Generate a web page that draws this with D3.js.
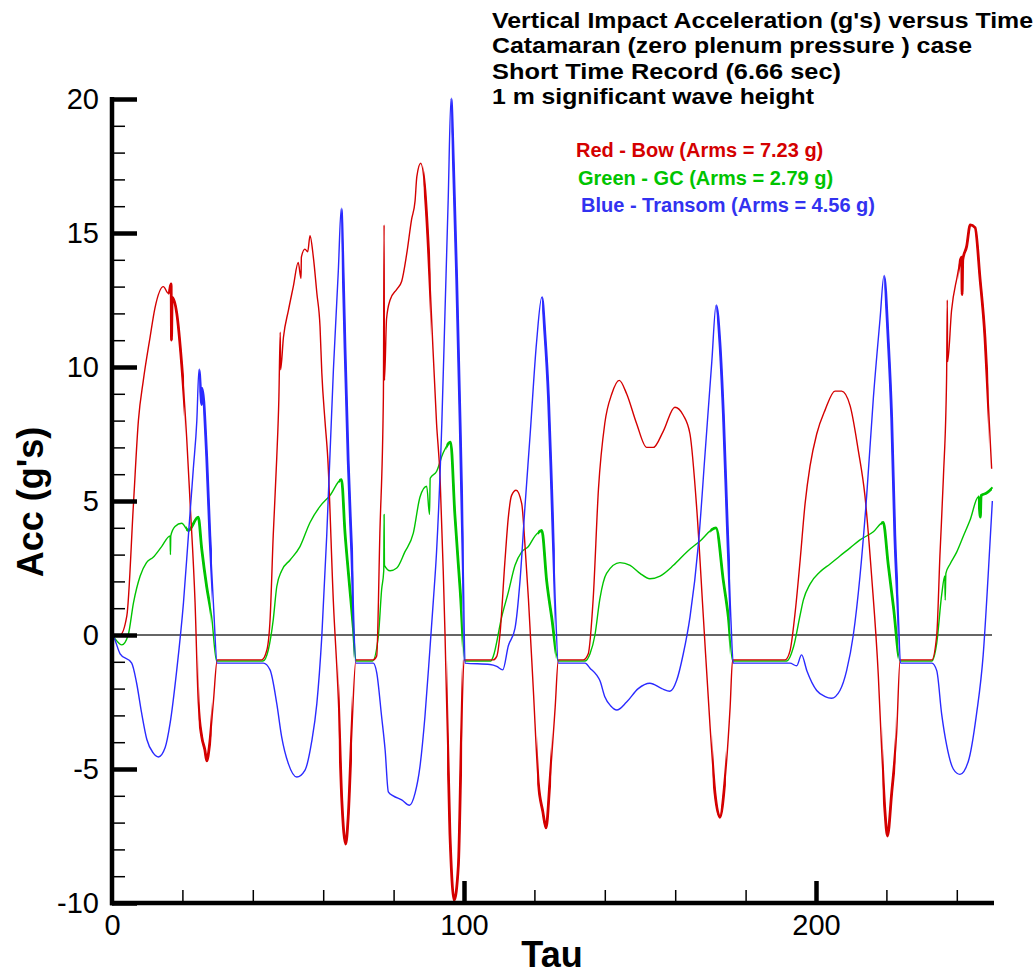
<!DOCTYPE html>
<html>
<head>
<meta charset="utf-8">
<script src="https://cdn.jsdelivr.net/npm/d3@7/dist/d3.min.js"></script>
<style>
  html, body { margin: 0; padding: 0; background: #fff; }
  svg { display: block; font-family: "Liberation Sans", Arial, Helvetica, sans-serif; }
</style>
</head>
<body>
<svg id="chart" width="1035" height="976"></svg>
<script>
// ---------------- data (tau, acceleration in g's) ----------------
const titleLines = [
  "Vertical Impact Acceleration (g's) versus Time",
  "Catamaran (zero plenum pressure ) case",
  "Short Time Record (6.66 sec)",
  "1 m significant wave height"
];
const legendLabels = [
  "Red - Bow (Arms = 7.23 g)",
  "Green - GC (Arms = 2.79 g)",
  "Blue - Transom (Arms = 4.56 g)"
];
const xMajorTicks = [0, 100, 200];
const xMinorTicks = [20, 40, 60, 80, 120, 140, 160, 180, 220, 240];
const yMajorTicks = [-10, -5, 0, 5, 10, 15, 20];
const yMinorTicks = [-9,-8,-7,-6,-4,-3,-2,-1,1,2,3,4,6,7,8,9,11,12,13,14,16,17,18,19];

const bowSeries = [
  [0,0],[2.3,0.0],[4.2,0.7],[6.1,4.9],[7.5,8.0],[8.9,9.5],[10.8,11.1],[12.2,12.2],[14.6,13.0],
  [16.0,12.75],[16.8,13.1],[16.9,11.0],[17.1,12.6],[18.4,12.0],[19.8,10.1],[21.2,7.4],[22.2,4.9],
  [23.6,1.2],[24.5,-2.5],[25.5,-3.8],[26.4,-4.3],[26.9,-4.7],[27.8,-4.0],[28.8,-2.5],[29.9,-0.93],
  [42.5,-0.93],[44.0,-0.56],[44.9,0.56],[45.8,3.7],[46.8,6.6],[47.4,8.8],[47.8,11.3],[47.9,9.9],
  [48.7,11.1],[50.1,12.1],[51.5,13.0],[52.9,13.9],[53.7,13.3],[53.8,14.1],[54.8,14.4],[55.6,14.3],
  [56.25,14.9],[57.2,14.1],[58.2,12.75],[59.1,11.5],[59.6,9.8],[60.5,8.0],[61.3,6.6],[62.9,1.2],
  [64.3,-2.4],[65.3,-6.2],[66.4,-7.8],[67.1,-6.8],[68.1,-3.7],[69.3,-0.93],
  [74.2,-0.93],[75.2,-0.78],[76.1,3.8],[77.1,8.9],[77.3,15.3],[77.4,9.5],[78.0,11.8],[79.0,12.5],
  [80.9,12.9],[82.3,13.2],[83.7,14.2],[85.1,15.5],[86.1,16.2],[86.6,17.1],[87.7,17.6],[88.9,16.6],
  [89.9,14.4],[90.8,11.8],[92.2,7.9],[93.2,5.9],[94.1,2.4],[94.6,0.07],[96.0,-7.4],[97.2,-9.9],
  [98.4,-8.6],[99.3,-3.7],[100.0,-0.93],
  [108.3,-0.93],[109.3,-0.8],[110.2,0],[111.6,2.7],[112.6,4.4],[113.5,5.2],[114.8,5.4],[116.4,4.9],
  [117.3,3.4],[118.3,1.35],[119.7,-2.05],[121.1,-5.5],[122.4,-6.6],[123.3,-7.2],[124.4,-5.5],
  [125.9,-2.7],[126.8,-0.93],
  [133.9,-0.93],[135.3,-0.7],[136.7,1.35],[138.2,5.45],[140.0,7.9],[142.0,9.0],[144.1,9.5],[146.2,9.0],
  [149.0,7.9],[151.9,7.0],[153.8,7.0],[156.6,7.6],[159.9,8.5],[162.3,8.2],[164.2,7.5],[166.1,4.75],
  [168.0,0.67],[169.9,-3.4],[171.3,-5.9],[172.7,-6.8],[174.1,-5.5],[175.6,-2.7],[176.3,-0.93],
  [191.2,-0.93],[192.6,-0.6],[194.0,0.75],[195.5,2.8],[196.9,4.9],[198.3,6.3],[200.2,7.5],[202.6,8.4],
  [205.4,9.1],[207.3,9.1],[209.7,8.55],[212.0,6.9],[213.9,5.2],[215.8,2.2],[217.7,-1.5],[218.7,-4.4],
  [219.6,-6.6],[220.3,-7.5],[221.5,-5.9],[222.9,-3.7],[223.9,-0.93],
  [232.9,-0.93],[234.3,0],[235.2,2.95],[236.2,5.9],[237.1,9.6],[237.3,12.5],[237.4,10.2],[238.5,12.1],
  [240.0,13.3],[241.4,14.1],[241.5,12.7],[241.7,14.0],[242.8,14.5],[243.8,15.3],[245.2,15.2],
  [246.6,13.3],[248.0,11.1],[248.9,8.8],[249.9,6.2]
];

const gcSeries = [
  [0,0],[0.4,-0.06],[2.8,-0.37],[4.6,0],[6.1,1.2],[8.0,2.2],[9.8,2.7],[11.7,2.9],[14.1,3.3],
  [16.5,3.7],[16.6,3.0],[16.7,3.7],[17.9,4.05],[19.8,4.17],[21.7,3.9],[24.5,4.4],[25.5,3.2],
  [26.9,1.8],[28.3,0.7],[29.7,-0.97],
  [42.9,-0.97],[44.4,-0.56],[45.8,0.56],[46.8,1.8],[48.2,2.4],[50.6,2.8],[53.4,3.3],[56.25,4.2],
  [59.1,4.8],[61.9,5.2],[65.2,5.8],[66.2,3.8],[67.1,2.4],[68.6,0.2],[69.3,-0.97],
  [74.0,-0.97],[75.7,0],[76.6,1.7],[77.2,2.4],[77.3,4.5],[77.4,2.6],[79.0,2.4],[80.9,2.5],[83.2,3.1],
  [85.6,3.8],[87.5,5.15],[89.4,5.55],[90.2,4.5],[90.4,5.85],[92.2,6.1],[94.1,6.8],[96.2,7.2],
  [97.4,4.5],[98.9,1.7],[100.3,-0.97],
  [107.6,-0.97],[108.3,-0.8],[110.7,0.67],[112.6,1.6],[114.5,2.6],[116.4,3.1],[118.3,3.3],
  [120.2,3.7],[122.1,3.9],[123.5,2.0],[124.9,0.67],[126.8,-0.97],
  [134.4,-0.97],[135.8,-0.7],[137.2,0],[138.6,1.35],[140.5,2.3],[144.3,2.7],[147.2,2.6],[150.0,2.3],
  [152.8,2.1],[155.7,2.2],[159.5,2.6],[163.3,3.1],[167.0,3.5],[171.6,4.0],[173.7,2.0],[175.1,0.67],
  [176.3,-0.97],
  [191.7,-0.97],[193.6,-0.45],[195.5,0.75],[196.4,1.3],[198.3,1.9],[201.1,2.35],[204.0,2.65],
  [206.8,2.95],[209.7,3.25],[212.5,3.55],[216.3,3.85],[219.1,4.2],[220.5,2.65],[222.0,1.05],
  [223.9,-0.97],
  [232.9,-0.97],[234.3,-0.3],[235.7,1.5],[236.6,2.2],[236.7,1.3],[236.9,2.3],[238.1,2.65],[240.0,3.1],
  [241.9,3.7],[243.8,4.3],[246.1,5.15],[246.7,4.4],[246.9,5.2],[248.5,5.3],[250.2,5.5]
];

const transomSeries = [
  [0,0],[0.4,-0.06],[2.3,-0.7],[5.6,-1.05],[7.0,-1.8],[8.4,-2.9],[9.9,-3.9],[11.7,-4.4],[13.2,-4.55],
  [15.1,-4.2],[16.5,-3.3],[18.4,-1.3],[20.3,1.2],[21.7,3.7],[23.1,6.2],[24.1,8.0],[24.7,9.9],
  [25.5,8.6],[25.6,9.2],[26.9,6.65],[27.8,3.7],[28.8,1.2],[29.9,-1.05],
  [43.0,-1.05],[44.9,-1.3],[46.8,-2.55],[48.2,-3.8],[50.1,-4.8],[52.5,-5.3],[54.8,-5.05],[56.7,-4.0],
  [58.2,-2.55],[59.6,-0.06],[61.0,3.7],[62.9,9.9],[64.3,13.6],[65.1,15.9],[65.7,13.4],[66.2,10.7],
  [67.1,6.5],[68.1,3.1],[69.3,-1.05],
  [74.2,-1.05],[75.2,-1.4],[76.6,-3.05],[77.6,-4.3],[78.5,-5.85],[79.9,-6.0],[82.3,-6.15],[84.5,-6.35],
  [86.1,-5.9],[87.5,-4.9],[88.9,-3.05],[90.3,-0.56],[91.3,1.3],[92.2,3.1],[93.7,7.9],[94.6,12.05],
  [95.5,16.2],[96.3,20.0],[97.0,17.6],[97.9,13.4],[98.9,7.9],[99.8,2.4],[100.3,-1.05],
  [107.4,-1.1],[109.3,-1.17],[111.0,-1.3],[112.6,-0.4],[114.5,0.26],[115.9,2.0],[117.3,4.75],
  [118.8,7.5],[120.6,10.9],[122.1,12.6],[123.0,11.2],[124.0,8.85],[124.9,5.45],[125.9,1.35],
  [126.8,-1.05],
  [134.4,-1.05],[135.8,-1.24],[137.7,-1.5],[138.6,-1.7],[140.0,-2.3],[141.7,-2.65],[143.4,-2.8],
  [146.2,-2.5],[149.5,-2.0],[152.8,-1.8],[156.2,-2.0],[158.5,-2.1],[160.4,-1.7],[162.3,-0.7],
  [164.2,0.67],[166.6,3.4],[168.5,6.8],[170.4,10.2],[171.6,12.3],[172.7,10.9],[173.7,8.2],
  [174.8,4.1],[175.8,0.67],[176.5,-1.05],
  [192.6,-1.05],[194.5,-1.15],[195.9,-0.74],[197.4,-1.33],[200.2,-2.07],[202.6,-2.3],[204.4,-2.36],
  [206.8,-2.07],[208.7,-1.33],[210.6,0],[212.5,2.2],[214.4,5.2],[216.3,8.85],[218.2,11.8],
  [219.3,13.4],[220.5,11.05],[221.5,8.1],[222.4,3.7],[223.4,0.73],[224.0,-1.05],
  [232.9,-1.05],[234.3,-1.33],[235.7,-2.95],[237.1,-4.1],[239.0,-5.0],[240.9,-5.2],[243.3,-4.7],
  [245.6,-2.95],[247.5,-0.74],[248.9,2.2],[250.1,5.0]
];

// tau ranges where the recorded signal is dense high-frequency noise (drawn heavier)
const bowNoisyRanges = [[16, 20.5], [24.6, 28.3], [64.4, 68.2], [88.5, 90.5], [95.2, 99.5], [120.8, 124.8], [170.6, 174.4], [218.9, 222.6], [240.5, 249]];
const gcNoisyRanges = [[21, 28], [64.5, 68.8], [95, 99.5], [121, 126], [170, 175.5], [218.5, 223.3], [246, 250]];
const transomNoisyRanges = [[24.8, 28.4], [65.2, 68.6], [96.4, 99.9], [122.2, 125.8], [171.7, 175.6], [219.4, 223.4]];

// ---------------- layout ----------------
const svg = d3.select("#chart");
const x = d3.scaleLinear().domain([0, 250]).range([112, 992]);
const y = d3.scaleLinear().domain([-10, 20]).range([903, 99]);

const colors = { bow: "#d40000", gc: "#00c400", transom: "#2a2aff" };

// zero reference line
svg.append("line")
  .attr("x1", x(0)).attr("x2", x(250))
  .attr("y1", y(0)).attr("y2", y(0))
  .attr("stroke", "#666").attr("stroke-width", 1.8);

// clip paths for noisy stretches
const defs = svg.append("defs");
function makeClip(id, ranges) {
  const cp = defs.append("clipPath").attr("id", id);
  ranges.forEach(r => cp.append("rect")
    .attr("x", x(r[0])).attr("width", x(r[1]) - x(r[0]))
    .attr("y", y(20) - 5).attr("height", y(-10) - y(20) + 10));
}
makeClip("clip-bow", bowNoisyRanges);
makeClip("clip-gc", gcNoisyRanges);
makeClip("clip-transom", transomNoisyRanges);

// series
const line = d3.line().curve(d3.curveMonotoneX).x(d => x(d[0])).y(d => y(d[1]));
[[gcSeries, colors.gc, "clip-gc"], [bowSeries, colors.bow, "clip-bow"], [transomSeries, colors.transom, "clip-transom"]]
  .forEach(([s, c, clip]) => {
    svg.append("path").datum(s)
      .attr("d", line)
      .attr("fill", "none")
      .attr("stroke", c)
      .attr("stroke-width", 1.4)
      .attr("stroke-linejoin", "round");
    svg.append("path").datum(s)
      .attr("d", line)
      .attr("fill", "none")
      .attr("stroke", c)
      .attr("stroke-width", 2.8)
      .attr("stroke-linejoin", "round")
      .attr("clip-path", `url(#${clip})`);
  });

// axes
function styleTicks(g, w) {
  g.select(".domain").remove();
  g.selectAll(".tick line").attr("stroke", "#000").attr("stroke-width", w);
  g.selectAll(".tick text").remove();
}
svg.append("g").attr("transform", `translate(${x(0)},0)`)
  .call(d3.axisRight(y).tickValues(yMinorTicks).tickSize(13))
  .call(g => styleTicks(g, 1.5));
svg.append("g").attr("transform", `translate(${x(0)},0)`)
  .call(d3.axisRight(y).tickValues(yMajorTicks).tickSize(25))
  .call(g => styleTicks(g, 4.5));
svg.append("g").attr("transform", `translate(0,${y(-10)})`)
  .call(d3.axisTop(x).tickValues(xMinorTicks).tickSize(13))
  .call(g => styleTicks(g, 1.5));
svg.append("g").attr("transform", `translate(0,${y(-10)})`)
  .call(d3.axisTop(x).tickValues(xMajorTicks.filter(v => v !== 0)).tickSize(22))
  .call(g => styleTicks(g, 4.5));

// axis lines
svg.append("line").attr("x1", x(0)).attr("x2", x(0)).attr("y1", y(20) - 2).attr("y2", y(-10) + 2.3)
  .attr("stroke", "#000").attr("stroke-width", 4.5);
svg.append("line").attr("x1", x(0) - 2).attr("x2", x(250) + 2).attr("y1", y(-10)).attr("y2", y(-10))
  .attr("stroke", "#000").attr("stroke-width", 4.5);

// tick labels (plain hyphen minus, as in the reference)
const fmt = v => String(v);
const yLab = svg.append("g").attr("transform", `translate(${x(0)},0)`)
  .call(d3.axisLeft(y).tickValues(yMajorTicks).tickFormat(fmt).tickSize(0).tickPadding(13));
yLab.select(".domain").remove();
yLab.selectAll("text").attr("font-size", 29).attr("fill", "#000")
  .attr("font-family", "'Liberation Sans', Arial, sans-serif");

const xLab = svg.append("g").attr("transform", `translate(0,${y(-10)})`)
  .call(d3.axisBottom(x).tickValues(xMajorTicks).tickFormat(fmt).tickSize(0).tickPadding(11));
xLab.select(".domain").remove();
xLab.selectAll("text").attr("font-size", 29).attr("fill", "#000")
  .attr("font-family", "'Liberation Sans', Arial, sans-serif");

// axis titles
svg.append("text").text("Tau")
  .attr("x", (x(0) + x(250)) / 2).attr("y", 967)
  .attr("text-anchor", "middle").attr("font-weight", "bold").attr("font-size", 36);
svg.append("text").text("Acc (g's)")
  .attr("transform", "translate(43,502) rotate(-90)")
  .attr("text-anchor", "middle").attr("font-weight", "bold").attr("font-size", 36);

// title block
const titleWidths = [541, 480, 349, 322];
const titleBase = [28, 53, 79, 104];
titleLines.forEach((t, i) => {
  svg.append("text").text(t)
    .attr("x", 492).attr("y", titleBase[i])
    .attr("font-weight", "bold").attr("font-size", 22)
    .attr("textLength", titleWidths[i]).attr("lengthAdjust", "spacingAndGlyphs");
});

// legend
const legendColors = ["#d40000", "#00c400", "#3232f0"];
const legendX = [576, 578, 581];
const legendY = [157, 185, 212];
legendLabels.forEach((t, i) => {
  svg.append("text").text(t)
    .attr("x", legendX[i]).attr("y", legendY[i])
    .attr("font-weight", "bold").attr("font-size", 20)
    .attr("fill", legendColors[i]);
});
</script>
</body>
</html>
